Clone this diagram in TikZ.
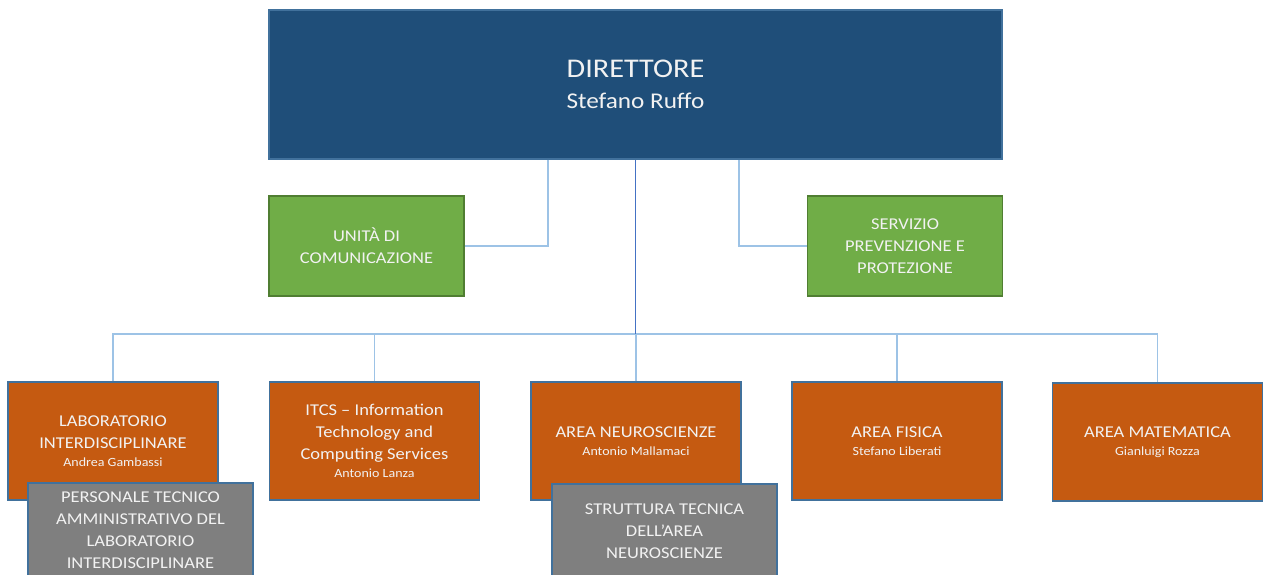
\documentclass[tikz,border=0pt]{standalone}
\usepackage{fontspec}
\setmainfont{Carlito}[FakeStretch=1.12]
\usetikzlibrary{calc}
\definecolor{dirblue}{HTML}{1F4E79}
\definecolor{edgeblue}{HTML}{41719C}
\definecolor{servgreen}{HTML}{70AD47}
\definecolor{servedge}{HTML}{507E32}
\definecolor{areaorange}{HTML}{C55A11}
\definecolor{staffgray}{HTML}{7F7F7F}
\definecolor{linklight}{HTML}{9DC3E6}
\definecolor{linkdark}{HTML}{4472C4}
\tikzset{
  box/.style={draw, line width=1.5pt, inner sep=0pt, align=center, text=white!95!black,
    font=\fontsize{16.5}{22}\selectfont},
  direttore/.style={box, fill=dirblue, draw=edgeblue, minimum width=733pt, minimum height=149pt},
  servizio/.style={box, fill=servgreen, draw=servedge, minimum width=195pt, minimum height=100pt},
  area/.style={box, fill=areaorange, draw=edgeblue, minimum width=210pt, minimum height=118pt},
  staff/.style={box, fill=staffgray, draw=edgeblue, minimum width=225pt, minimum height=94pt, anchor=north},
  link/.style={draw=linklight, line width=1.3pt},
  trunk/.style={draw=linkdark, line width=1pt}
}
\newcommand\areabox[5]{%
  \node[area] (#1) at (#2, #3) {#4\\[-4pt]{\fontsize{12.5}{14}\selectfont #5}}
}

\begin{document}
\begin{tikzpicture}[x=1pt, y=-1pt]
        \useasboundingbox (0,0) rectangle (1263,574);
        \clip (0,0) rectangle (1263,574);

        % The director
        \node[direttore] (dir) at (635.5, 84.5) {{\fontsize{27}{30}\selectfont DIRETTORE}\\[9pt]
          {\fontsize{22.5}{26}\selectfont Stefano Ruffo}};

        % The staff services
        \node[servizio] (unita) at (366.5, 246) {UNITÀ DI\\COMUNICAZIONE};
        \node[servizio] (spp) at (905, 246) {SERVIZIO\\PREVENZIONE E\\PROTEZIONE};

        % The areas
        \areabox{lab}{113}{441}{LABORATORIO\\INTERDISCIPLINARE}{Andrea Gambassi};
        \areabox{itcs}{374.5}{441}{ITCS -- Information\\Technology and\\Computing Services}{Antonio Lanza};
        \areabox{neuro}{636}{441}{AREA NEUROSCIENZE}{Antonio Mallamaci};
        \areabox{fis}{897}{441}{AREA FISICA}{Stefano Liberati};
        \areabox{mat}{1157.5}{442}{AREA MATEMATICA}{Gianluigi Rozza};

        % The technical staff
        \node[staff] (labstaff) at (140.5, 482) {PERSONALE TECNICO\\AMMINISTRATIVO DEL\\LABORATORIO\\INTERDISCIPLINARE};
        \node[staff] (neurostaff) at (664.5, 483) {STRUTTURA TECNICA\\DELL’AREA\\NEUROSCIENZE};

        % Connectors
        \coordinate (bus) at (0, 334);
        \draw[link] ([xshift=-87.5pt]dir.south) |- (unita.east);
        \draw[link] ([xshift=103.5pt]dir.south) |- (spp.west);
        \draw[link] (lab.north) -- (lab.north |- bus) -- (mat.north |- bus) -- (mat.north);
        \foreach \n in {itcs,neuro,fis}
          \draw[link] (\n.north) -- (\n.north |- bus);
        \draw[trunk] (dir.south) -- (dir.south |- bus);
    \end{tikzpicture}
\end{document}
